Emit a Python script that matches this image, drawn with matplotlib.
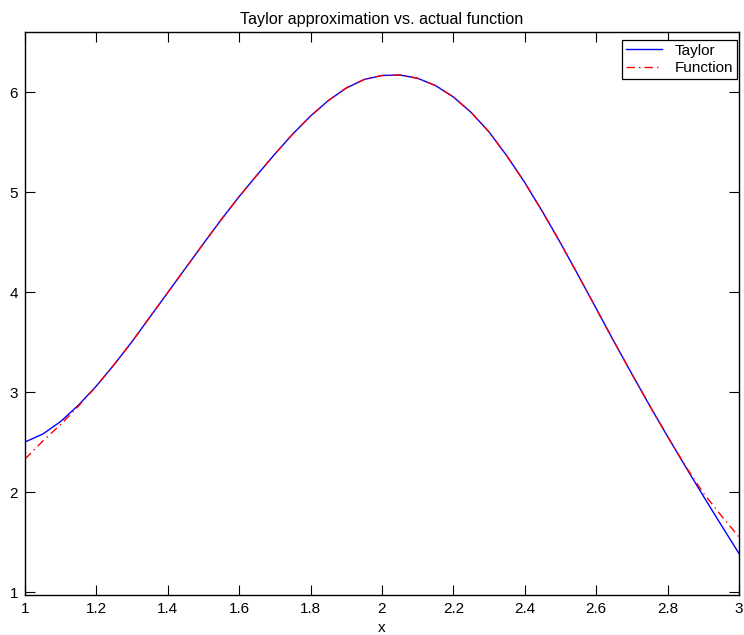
import matplotlib
matplotlib.use("Agg")
import matplotlib.pyplot as plt
from matplotlib.ticker import FuncFormatter

plt.rcParams['font.family'] = ['Liberation Sans', 'DejaVu Sans']

x_vals = [1.00, 1.05, 1.10, 1.15, 1.20, 1.25, 1.30, 1.35, 1.40, 1.45,
          1.50, 1.55, 1.60, 1.65, 1.70, 1.75, 1.80, 1.85, 1.90, 1.95,
          2.00, 2.05, 2.10, 2.15, 2.20, 2.25, 2.30, 2.35, 2.40, 2.45,
          2.50, 2.55, 2.60, 2.65, 2.70, 2.75, 2.80, 2.85, 2.90, 2.95, 3.00]

taylor_vals = [2.500, 2.580, 2.705, 2.870, 3.060, 3.275, 3.505, 3.750, 3.995, 4.240,
               4.485, 4.725, 4.955, 5.170, 5.380, 5.580, 5.760, 5.915, 6.040, 6.125,
               6.165, 6.170, 6.137, 6.064, 5.950, 5.795, 5.600, 5.360, 5.094, 4.800,
               4.490, 4.165, 3.835, 3.503, 3.180, 2.862, 2.555, 2.254, 1.960, 1.670, 1.385]

function_vals = [2.330, 2.510, 2.675, 2.860, 3.060, 3.275, 3.505, 3.750, 3.995, 4.240,
                 4.485, 4.725, 4.955, 5.170, 5.380, 5.580, 5.760, 5.915, 6.040, 6.125,
                 6.165, 6.170, 6.137, 6.064, 5.950, 5.795, 5.600, 5.360, 5.094, 4.800,
                 4.490, 4.165, 3.835, 3.503, 3.180, 2.862, 2.555, 2.260, 1.990, 1.765, 1.550]

x_ticks = [1.0, 1.2, 1.4, 1.6, 1.8, 2.0, 2.2, 2.4, 2.6, 2.8, 3.0]
y_ticks = [1, 2, 3, 4, 5, 6]

fig = plt.figure(figsize=(7.44, 6.35), dpi=100)
ax = fig.add_axes([25/744, 40/635, 714/744, 563/635])

ax.plot(x_vals, taylor_vals, color='#0000ff', linestyle='-', linewidth=1.0, label='Taylor')
ax.plot(x_vals, function_vals, color='#ff0000', linestyle=(0, (6, 3, 1, 3)),
        linewidth=1.0, label='Function')

ax.set_xlim(1, 3)
ax.set_ylim(0.97, 6.6)
ax.set_xticks(x_ticks)
ax.set_yticks(y_ticks)
ax.xaxis.set_major_formatter(FuncFormatter(lambda v, p: ('%g' % round(v, 2))))
ax.tick_params(direction='in', length=7, width=0.8, top=True, right=True,
               labelsize=11, pad=5)
for s in ax.spines.values():
    s.set_linewidth(1.0)

ax.set_title('Taylor approximation vs. actual function', fontsize=11.6, pad=6)
ax.set_xlabel('x', fontsize=11, labelpad=4)

leg = ax.legend(loc='upper right', bbox_to_anchor=(737/744, 1 - 40/635),
                bbox_transform=fig.transFigure, borderaxespad=0,
                fontsize=11, frameon=True, fancybox=False,
                edgecolor='black', framealpha=1, handlelength=2.4,
                borderpad=0.25, labelspacing=0.2, handletextpad=0.8)
leg.get_frame().set_linewidth(0.9)

fig.savefig('out.png', dpi=100)
